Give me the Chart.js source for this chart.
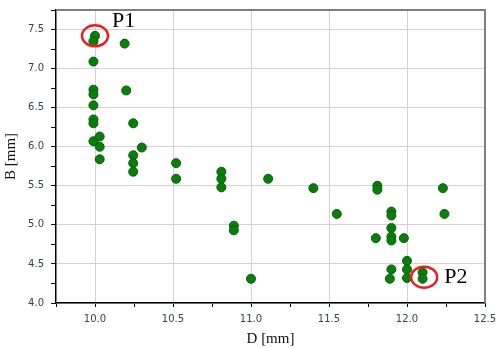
<!DOCTYPE html>
<html>
<head>
<meta charset="utf-8">
<script src="https://cdn.jsdelivr.net/npm/chart.js@4.4.0/dist/chart.umd.min.js"></script>
<style>
  html, body { margin: 0; padding: 0; background: #fff; }
  #wrap { width: 496px; height: 348px; }
</style>
</head>
<body>
<div id="wrap"><canvas id="chart" width="496" height="348"></canvas></div>
<script>
// measured points: D [mm] and B [mm]
const dValues = [
  10.00, 9.99, 10.19, 9.99, 10.20, 9.99, 9.99, 9.99, 9.99, 9.99,
  10.245, 9.99, 10.03, 10.03, 10.30, 10.03, 10.245, 10.245, 10.245, 10.52,
  10.52, 10.81, 10.81, 10.81, 10.89, 10.89, 11.00, 11.11, 11.40, 11.55,
  11.81, 11.81, 12.23, 12.24, 11.90, 11.90, 11.90, 11.90, 11.90, 11.80,
  11.98, 12.00, 12.00, 12.00, 11.90, 11.89, 12.10, 12.10
];
const bValues = [
  7.42, 7.35, 7.32, 7.09, 6.72, 6.73, 6.67, 6.53, 6.35, 6.30,
  6.30, 6.07, 6.13, 6.00, 5.99, 5.84, 5.89, 5.79, 5.68, 5.79,
  5.59, 5.68, 5.59, 5.48, 4.99, 4.93, 4.31, 5.59, 5.47, 5.14,
  5.50, 5.45, 5.47, 5.14, 5.17, 5.12, 4.96, 4.85, 4.80, 4.83,
  4.83, 4.54, 4.43, 4.32, 4.43, 4.31, 4.39, 4.31
];

// the two marked points
const markedNames = ['P1', 'P2'];
const markedD = [10.00, 12.11];
const markedB = [7.42, 4.33];

// axes
const xMin = 9.75, xMax = 12.5;
const yMin = 4.0, yMax = 7.75;
const tickStep = 0.25;   // minor ticks
const labelStep = 0.5;   // labelled ticks + grid

// where the P1 / P2 text sits relative to its circle (px)
const labelOffsets = [[17, -15], [20, 0]];

function isMajor(v) {
  const k = v / labelStep;
  return Math.abs(k - Math.round(k)) < 1e-6;
}

const frameAndMarks = {
  id: 'frameAndMarks',
  afterDatasetsDraw(chart) {
    const { ctx, chartArea: a, scales: { x, y } } = chart;
    ctx.save();
    // top + right frame
    ctx.strokeStyle = '#7f7f7f';
    ctx.lineWidth = 2;
    ctx.beginPath();
    ctx.moveTo(a.left, a.top);
    ctx.lineTo(a.right, a.top);
    ctx.lineTo(a.right, a.bottom);
    ctx.stroke();

    // red rings + names
    markedNames.forEach((name, i) => {
      const px = x.getPixelForValue(markedD[i]);
      const py = y.getPixelForValue(markedB[i]);
      ctx.strokeStyle = '#ec1c24';
      ctx.lineWidth = 2.5;
      ctx.beginPath();
      ctx.ellipse(px, py, 13, 10.5, 0, 0, Math.PI * 2);
      ctx.stroke();
      ctx.fillStyle = '#000';
      ctx.font = '22px "Liberation Serif"';
      ctx.textAlign = 'left';
      ctx.textBaseline = 'middle';
      ctx.fillText(name, px + labelOffsets[i][0], py + labelOffsets[i][1]);
    });
    ctx.restore();
  }
};

const tickFont = { family: 'DejaVu Sans', size: 10 };
const titleFont = { family: 'Liberation Serif', size: 15 };

new Chart(document.getElementById('chart'), {
  type: 'scatter',
  data: {
    datasets: [{
      data: dValues.map((d, i) => ({ x: d, y: bValues[i] })),
      pointRadius: 4.5,
      pointHoverRadius: 4.5,
      pointBackgroundColor: '#0a7e0a',
      pointBorderColor: '#056005',
      pointBorderWidth: 1
    }]
  },
  options: {
    responsive: false,
    animation: false,
    events: [],
    layout: { padding: { top: 10, right: 11, left: 0, bottom: 0 } },
    plugins: { legend: { display: false }, tooltip: { enabled: false } },
    scales: {
      x: {
        type: 'linear',
        min: xMin,
        max: xMax,
        ticks: {
          stepSize: tickStep,
          autoSkip: false,
          maxRotation: 0,
          padding: 6,
          font: tickFont,
          color: '#34405a',
          callback: v => isMajor(v) ? v.toFixed(1) : ''
        },
        grid: {
          color: c => (c.tick && isMajor(c.tick.value)) ? '#d2d2d2' : 'rgba(0,0,0,0)',
          tickColor: '#000',
          tickLength: 4,
          lineWidth: 1
        },
        border: { color: '#000', width: 1.5 },
        title: { display: true, text: 'D [mm]', font: titleFont, color: '#111', padding: { top: 2, bottom: 0 } },
        afterFit: s => { s.height = 45; s.paddingLeft = 0; s.paddingRight = 0; }
      },
      y: {
        type: 'linear',
        min: yMin,
        max: yMax,
        ticks: {
          stepSize: tickStep,
          autoSkip: false,
          padding: 7,
          font: tickFont,
          color: '#34405a',
          callback: v => isMajor(v) ? v.toFixed(1) : ''
        },
        grid: {
          color: c => (c.tick && isMajor(c.tick.value)) ? '#d2d2d2' : 'rgba(0,0,0,0)',
          tickColor: '#000',
          tickLength: 5,
          lineWidth: 1
        },
        border: { color: '#000', width: 1.5 },
        title: { display: true, text: 'B [mm]', font: titleFont, color: '#111', padding: { top: 2, bottom: 2 } },
        afterFit: s => { s.width = 56; s.paddingTop = 0; s.paddingBottom = 0; }
      }
    }
  },
  plugins: [frameAndMarks]
});
</script>
</body>
</html>
